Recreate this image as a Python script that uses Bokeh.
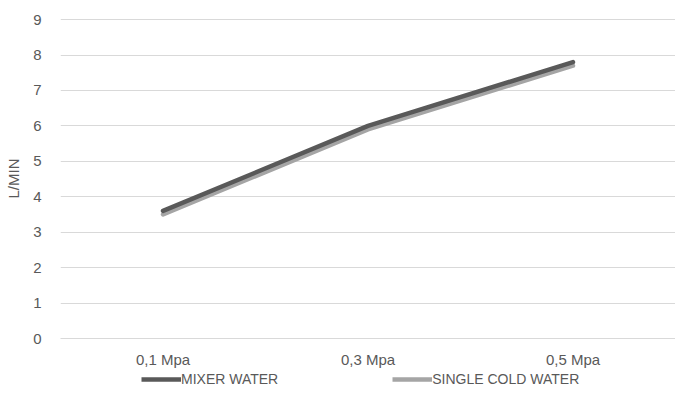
from bokeh.plotting import figure
from bokeh.models import Range1d, FactorRange, Legend, LegendItem
from bokeh.layouts import column
from bokeh.embed import file_html
from bokeh.resources import INLINE

categories = ["0,1 Mpa", "0,3 Mpa", "0,5 Mpa"]
mixer_water = [3.6, 6.0, 7.8]
single_cold_water = [3.5, 5.9, 7.7]
y_ticks = [0, 1, 2, 3, 4, 5, 6, 7, 8, 9]

FONT = "Liberation Sans"
TXT = "#595959"
C_MIX = "#595959"
C_COLD = "#A5A5A5"

p = figure(frame_width=615, frame_height=320, x_range=FactorRange(*categories, range_padding=0),
           y_range=Range1d(0, 9.03), output_backend="svg", toolbar_location=None,
           min_border_left=60, min_border_right=0, min_border_top=18, min_border_bottom=0)
p.outline_line_color = None
p.xgrid.grid_line_color = None
p.ygrid.grid_line_color = "#D9D9D9"
p.ygrid.grid_line_width = 1
p.ygrid.ticker = y_ticks

p.yaxis.ticker = y_ticks
p.yaxis.axis_line_color = None
p.yaxis.major_tick_line_color = None
p.yaxis.minor_tick_line_color = None
p.yaxis.major_label_text_font = FONT
p.yaxis.major_label_text_font_size = "15px"
p.yaxis.major_label_text_color = TXT
p.yaxis.major_label_standoff = 13
p.yaxis.axis_label = "L/MIN"
p.yaxis.axis_label_text_font = FONT
p.yaxis.axis_label_text_font_size = "15px"
p.yaxis.axis_label_text_font_style = "normal"
p.yaxis.axis_label_text_color = TXT
p.yaxis.axis_label_standoff = 8

p.xaxis.axis_line_color = "#D9D9D9"
p.xaxis.major_tick_line_color = None
p.xaxis.minor_tick_line_color = None
p.xaxis.major_label_text_font = FONT
p.xaxis.major_label_text_font_size = "15px"
p.xaxis.major_label_text_color = TXT
p.xaxis.major_label_standoff = 6

r1 = p.line(categories, mixer_water, line_color=C_MIX, line_width=4.5, line_cap="round")
r2 = p.line(categories, single_cold_water, line_color=C_COLD, line_width=4.5, line_cap="round")
p.renderers = [r2, r1]

# legend strip below the chart
lg = figure(frame_width=615, frame_height=22, x_range=FactorRange(*categories, range_padding=0),
            y_range=Range1d(100, 101), output_backend="svg", toolbar_location=None,
            min_border_left=60, min_border_right=0, min_border_top=0, min_border_bottom=0,
            x_axis_location=None, y_axis_location=None)
lg.outline_line_color = None
lg.xgrid.visible = False
lg.ygrid.visible = False
l1 = lg.line(categories, mixer_water, line_color=C_MIX, line_width=4.5)
l2 = lg.line(categories, single_cold_water, line_color=C_COLD, line_width=4.5)

legend = Legend(items=[LegendItem(label="MIXER WATER", renderers=[l1]),
                       LegendItem(label="SINGLE COLD WATER", renderers=[l2])],
                orientation="horizontal", location=(81, 5),
                label_text_font=FONT, label_text_font_size="14px", label_text_color=TXT,
                glyph_width=40, glyph_height=16, label_standoff=0, spacing=114,
                padding=0, margin=0, label_height=16,
                border_line_color=None, background_fill_alpha=0)
lg.add_layout(legend, "center")

layout = column(p, lg, spacing=0)
open("out.html", "w").write(file_html(layout, INLINE))
